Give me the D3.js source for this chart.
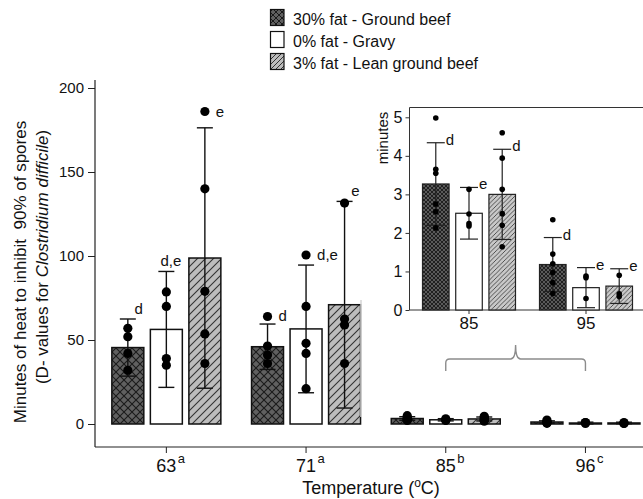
<!DOCTYPE html>
<html><head><meta charset="utf-8">
<script src="https://cdn.jsdelivr.net/npm/d3@7"></script>
<style>body{margin:0;background:#fff} svg{display:block}</style>
</head><body><svg id="c" width="643" height="499"></svg>
<script>
const groups = ["63","71","85","96"];
const groupSup = ["a","a","b","c"];
const seriesNames = ["30% fat - Ground beef","0% fat - Gravy","3% fat - Lean ground beef"];
const meanBeef = [45.5, 46, 3.27, 1.18];
const meanGravy = [56.3, 56.6, 2.51, 0.58];
const meanLean = [98.8, 71, 3.0, 0.62];
const sdBeef = [17, 13.5, 1.07, 0.7];
const sdGravy = [34.5, 38, 0.67, 0.52];
const sdLean = [77.5, 61.5, 1.17, 0.45];
const ptsBeef = [[57,52,42,32],[64,46.4,41,36],[4.98,3.65,3.55,2.75,2.55,2.13],[2.34,1.45,1.2,0.97,0.71,0.43]];
const ptsGravy = [[78.6,70,39,35],[100.6,70,48,42,21],[3.13,2.49,2.24,2.18],[0.88,0.84,0.3]];
const ptsLean = [[186,140,79,53.6,36],[131.5,62.5,59,36],[4.6,3.94,3.13,2.5,2.2,1.64],[0.9,0.42,0.35]];
const lettersBeef = ["d","d","d","d"];
const lettersGravy = ["d,e","d,e","e","e"];
const lettersLean = ["e","e","d","e"];
const mainTicks = [0,50,100,150,200];
const insetGroups = ["85","95"];
const insetTicks = [0,1,2,3,4,5];
const insetLabel = "minutes";
const xTitle = "Temperature";
const yTitle1 = "Minutes of heat to inhibit\u00a0 90% of spores";

const FONT = "'Liberation Sans', Arial, Helvetica, sans-serif";
const svg = d3.select("#c").style("font-family", FONT);
svg.append("rect").attr("width",643).attr("height",499).attr("fill","#fff");

// patterns
const defs = svg.append("defs");
function pattern(id, s, bg, type, stroke, sw){
  const p = defs.append("pattern").attr("id",id).attr("patternUnits","userSpaceOnUse")
    .attr("width",s).attr("height",s);
  p.append("rect").attr("width",s).attr("height",s).attr("fill",bg);
  let d;
  if(type==="cross") d=`M${-1},${-1}L${s+1},${s+1}M${s+1},${-1}L${-1},${s+1}`;
  else if(type==="diag") d=`M0,${s}L${s},0M${-s/2},${s/2}L${s/2},${-s/2}M${s/2},${s*1.5}L${s*1.5},${s/2}`;
  if(d) p.append("path").attr("d",d).attr("stroke",stroke).attr("stroke-width",sw).attr("fill","none");
}
pattern("crossM", 8, "#606060", "cross", "#1a1a1a", 1.1);
pattern("diagM", 8, "#bdbdbd", "diag", "#333", 1.1);
pattern("crossI", 4, "#5a5a5a", "cross", "#111", 0.8);
pattern("diagI", 4.5, "#c9c9c9", "diag", "#333", 0.8);
pattern("crossL", 6, "#606060", "cross", "#1a1a1a", 1);
pattern("diagL", 5, "#bdbdbd", "diag", "#333", 1);

const series = [
  {name:seriesNames[0], mean:meanBeef, sd:sdBeef, pts:ptsBeef, letters:lettersBeef, fm:"url(#crossM)", fi:"url(#crossI)", fl:"url(#crossL)"},
  {name:seriesNames[1], mean:meanGravy, sd:sdGravy, pts:ptsGravy, letters:lettersGravy, fm:"#fff", fi:"#fff", fl:"#fff"},
  {name:seriesNames[2], mean:meanLean, sd:sdLean, pts:ptsLean, letters:lettersLean, fm:"url(#diagM)", fi:"url(#diagI)", fl:"url(#diagL)"}
];

// ---------- main chart ----------
const xMain = d3.scaleBand().domain(groups).range([96.5, 655.3]);
const xSub = d3.scaleBand().domain([0,1,2]).range([-54.5, 54.5]).paddingInner(0.17);
const yMain = d3.scaleLinear().domain([0,200]).range([424, 88]);

const yAx = svg.append("g").attr("transform","translate(95,0)")
  .call(d3.axisLeft(yMain).tickValues(mainTicks).tickSize(7).tickPadding(4));
yAx.select(".domain").remove();
yAx.selectAll("text").attr("font-size",15).attr("font-family",FONT).attr("fill","#111");
yAx.selectAll("line").attr("stroke","#222");
svg.append("line").attr("x1",95).attr("x2",95).attr("y1",80).attr("y2",447).attr("stroke","#222").attr("stroke-width",1.2);

const xAx = svg.append("g").attr("transform","translate(0,447)")
  .call(d3.axisBottom(xMain).tickSize(6).tickSizeOuter(0).tickFormat(""));
xAx.select(".domain").remove();
xAx.selectAll("line").attr("stroke","#222");
svg.append("line").attr("x1",95).attr("x2",643).attr("y1",447).attr("y2",447).attr("stroke","#222").attr("stroke-width",1.2);
groups.forEach((g,i)=>{
  const cx = xMain(g)+xMain.bandwidth()/2;
  const t = svg.append("text").attr("x",cx).attr("y",472).attr("text-anchor","middle")
    .attr("font-size",18).attr("fill","#111").text(g);
  const w = t.node().getComputedTextLength();
  svg.append("text").attr("x",cx+w/2+1.5).attr("y",463).attr("font-size",13).attr("fill","#111").text(groupSup[i]);
});
const xt = svg.append("text").attr("x",371).attr("y",494).attr("text-anchor","middle").attr("font-size",18).attr("fill","#111");
xt.append("tspan").text(xTitle + " (");
xt.append("tspan").attr("font-size",12).attr("dy",-7).text("o");
xt.append("tspan").attr("dy",7).text("C)");

const yt = svg.append("g").attr("font-size",17).attr("fill","#111");
yt.append("text").attr("transform","rotate(-90)").attr("x",-272).attr("y",26).attr("text-anchor","middle").text(yTitle1);
const yt2 = yt.append("text").attr("transform","rotate(-90)").attr("x",-257).attr("y",48).attr("text-anchor","middle");
yt2.append("tspan").text("(D- values for ");
yt2.append("tspan").attr("font-style","italic").text("Clostridium difficile");
yt2.append("tspan").text(")");

const mainG = svg.append("g");
const mainLabels = svg.append("g");
groups.forEach((g,gi)=>{
  series.forEach((s,si)=>{
    const x0 = xMain(g)+xMain.bandwidth()/2 + xSub(si);
    const bw = xSub.bandwidth(), cx = x0+bw/2;
    const m = s.mean[gi], sd = s.sd[gi];
    mainG.append("rect").attr("x",x0).attr("y",yMain(m)).attr("width",bw).attr("height",yMain(0)-yMain(m))
      .attr("fill",s.fm).attr("stroke","#111").attr("stroke-width",1.5);
    const hi = yMain(m+sd), lo = yMain(Math.max(m-sd,0));
    mainG.append("line").attr("x1",cx).attr("x2",cx).attr("y1",hi).attr("y2",lo).attr("stroke","#111").attr("stroke-width",1.4);
    [hi,lo].forEach(yy=>mainG.append("line").attr("x1",cx-8).attr("x2",cx+8).attr("y1",yy).attr("y2",yy).attr("stroke","#111").attr("stroke-width",1.4));
    s.pts[gi].forEach(v=>mainG.append("circle").attr("cx",cx).attr("cy",yMain(v)).attr("r",4.6).attr("fill","#000"));
    if(gi<2){
      const maxPt = d3.max(s.pts[gi]);
      if(maxPt > m+sd){
        mainLabels.append("text").attr("x",cx+11).attr("y",yMain(maxPt)+5).attr("font-size",15).attr("fill","#111").text(s.letters[gi]);
      } else {
        mainLabels.append("text").attr("x",cx+15).attr("y",hi-5).attr("text-anchor","end").attr("font-size",15).attr("fill","#111").text(s.letters[gi]);
      }
    }
  });
});

// bracket
const bx0 = xMain("85")+xMain.bandwidth()/2, bx1 = xMain("96")+xMain.bandwidth()/2, bm = (bx0+bx1)/2;
svg.append("path").attr("d",`M${bx0},371V363Q${bx0},359 ${bx0+4},359H${bm-5}Q${bm},359 ${bm},345Q${bm},359 ${bm+5},359H${bx1-4}Q${bx1},359 ${bx1},363V371`)
  .attr("fill","none").attr("stroke","#8c8c8c").attr("stroke-width",1.4);
svg.append("line").attr("x1",361).attr("x2",361).attr("y1",300).attr("y2",417).attr("stroke","#d4d4d4").attr("stroke-width",1.5);

// ---------- inset ----------
const xIn = d3.scaleBand().domain(insetGroups).range([410.5, 644.5]);
const xInSub = d3.scaleBand().domain([0,1,2]).range([-46.5, 46.5]).paddingInner(0.2);
const yIn = d3.scaleLinear().domain([0,5]).range([310, 117.3]);
svg.append("rect").attr("x",409).attr("y",107).attr("width",234).attr("height",203).attr("fill","#fff");
const yiAx = svg.append("g").attr("transform","translate(409.5,0)")
  .call(d3.axisLeft(yIn).tickValues(insetTicks).tickFormat(d3.format("d")).tickSize(4).tickPadding(3));
yiAx.select(".domain").remove();
yiAx.selectAll("text").attr("font-size",16).attr("font-family",FONT).attr("fill","#111");
yiAx.selectAll("line").attr("stroke","#333");
const xiAx = svg.append("g").attr("transform","translate(0,310)")
  .call(d3.axisBottom(xIn).tickSize(4).tickPadding(3).tickSizeOuter(0));
xiAx.select(".domain").remove();
xiAx.selectAll("text").attr("font-size",17).attr("font-family",FONT).attr("fill","#111");
xiAx.selectAll("line").attr("stroke","#333");
svg.append("path").attr("d","M643,107.5H409.5V310H643").attr("fill","none").attr("stroke","#333").attr("stroke-width",1);
svg.append("text").attr("transform","translate(388,138) rotate(-90)").attr("text-anchor","middle")
  .attr("font-size",15).attr("fill","#111").text(insetLabel);

const inG = svg.append("g");
insetGroups.forEach((g,ii)=>{
  const gi = ii+2;
  series.forEach((s,si)=>{
    const x0 = xIn(g)+xIn.bandwidth()/2 + xInSub(si);
    const bw = xInSub.bandwidth(), cx = x0+bw/2;
    const m = s.mean[gi], sd = s.sd[gi];
    inG.append("rect").attr("x",x0).attr("y",yIn(m)).attr("width",bw).attr("height",yIn(0)-yIn(m))
      .attr("fill",s.fi).attr("stroke","#222").attr("stroke-width",1.2);
    const hi = yIn(m+sd), lo = yIn(Math.max(m-sd,0));
    inG.append("line").attr("x1",cx).attr("x2",cx).attr("y1",hi).attr("y2",lo).attr("stroke","#222").attr("stroke-width",1.2);
    [hi,lo].forEach(yy=>inG.append("line").attr("x1",cx-9).attr("x2",cx+9).attr("y1",yy).attr("y2",yy).attr("stroke","#222").attr("stroke-width",1.2));
    s.pts[gi].forEach(v=>inG.append("circle").attr("cx",cx).attr("cy",yIn(v)).attr("r",2.8).attr("fill","#000"));
    inG.append("text").attr("x",cx+10).attr("y",hi+2).attr("font-size",15).attr("fill","#111").text(s.letters[gi]);
  });
});

// ---------- legend ----------
const lg = svg.append("g");
series.forEach((s,i)=>{
  const by = 24.5 + i*22;
  lg.append("rect").attr("x",270.5).attr("y",by-15).attr("width",13.5).attr("height",16)
    .attr("fill",s.fl).attr("stroke","#111").attr("stroke-width",1.2);
  lg.append("text").attr("x",293).attr("y",by).attr("font-size",16).attr("fill","#111").text(s.name);
});
</script></body></html>
